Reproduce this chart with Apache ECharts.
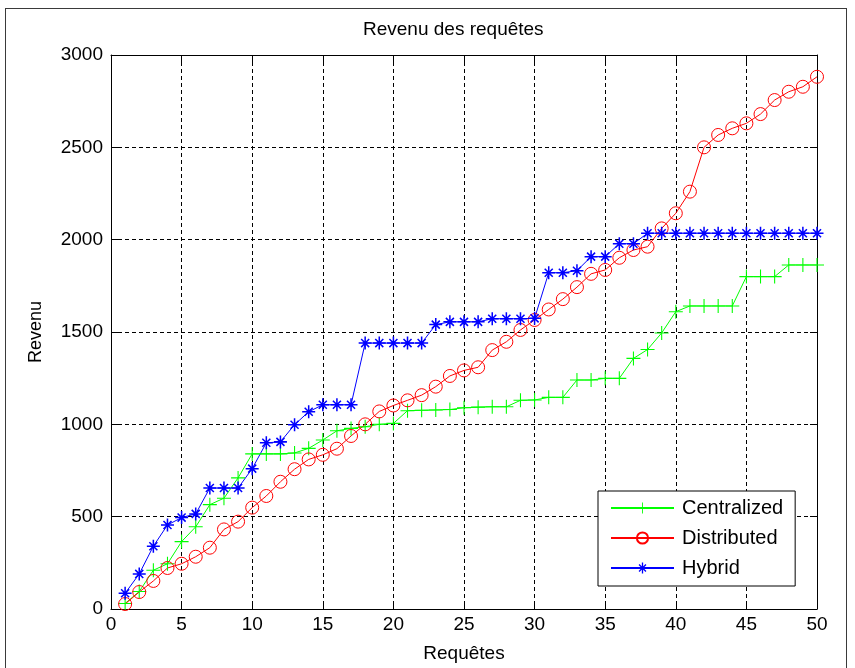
<!DOCTYPE html>
<html>
<head>
<meta charset="utf-8">
<script src="https://cdn.jsdelivr.net/npm/echarts@6/dist/echarts.min.js"></script>
<style>
html,body{margin:0;padding:0;background:#fff;}
#frame{position:absolute;left:5px;top:8px;width:842px;height:700px;border:1px solid #3a3a3a;box-sizing:border-box;}
#chart{position:absolute;left:0;top:0;width:855px;height:668px;}
</style>
</head>
<body>
<div id="frame"></div>
<div id="chart"></div>
<script>
const requetes = Array.from({length: 50}, (_, i) => i + 1);
const centralized = [30, 95, 210, 245, 365, 445, 565, 600, 710, 840,
  840, 840, 845, 870, 915, 965, 978, 987, 1000, 1005,
  1074, 1076, 1078, 1080, 1090, 1093, 1095, 1095, 1130, 1132,
  1146, 1146, 1240, 1240, 1249, 1249, 1357, 1405, 1495, 1610,
  1641, 1641, 1641, 1641, 1800, 1800, 1800, 1863, 1863, 1863];
const distributed = [27, 92, 152, 222, 245, 283, 332, 431, 473, 549,
  612, 689, 757, 810, 835, 868, 937, 1000, 1070, 1102,
  1130, 1158, 1204, 1262, 1292, 1309, 1402, 1447, 1511, 1565,
  1622, 1678, 1743, 1815, 1836, 1902, 1944, 1962, 2061, 2143,
  2260, 2500, 2567, 2603, 2630, 2680, 2756, 2801, 2828, 2882];
const hybrid = [85, 190, 340, 455, 495, 515, 655, 655, 655, 760,
  900, 905, 998, 1068, 1106, 1106, 1106, 1440, 1440, 1440,
  1440, 1440, 1540, 1555, 1555, 1555, 1572, 1572, 1572, 1574,
  1821, 1821, 1832, 1908, 1908, 1978, 1978, 2035, 2035, 2035,
  2035, 2035, 2035, 2035, 2035, 2035, 2035, 2035, 2035, 2035];
const seriesNames = ['Centralized', 'Distributed', 'Hybrid'];
const titleText = 'Revenu des requêtes';
const xName = 'Requêtes';
const yName = 'Revenu';

const FONT = '"Liberation Sans", Arial, sans-serif';
const plusPath = 'path://M-0.5,-6.5H0.5V6.5H-0.5Z M-6.5,-0.5H6.5V0.5H-6.5Z';
const starPath = 'path://M-0.7,-6H0.7V6H-0.7Z M-6,-0.7H6V0.7H-6Z M-4.2,-3.2L-3.2,-4.2L4.2,3.2L3.2,4.2Z M3.2,-4.2L4.2,-3.2L-3.2,4.2L-4.2,3.2Z';

function pairs(vals){ return requetes.map((x, i) => [x, vals[i]]); }
const plain = v => String(v);

const chart = echarts.init(document.getElementById('chart'), null, {renderer: 'canvas'});
const tickStyle = {show: true, inside: true, length: 7, lineStyle: {color: '#000', width: 1}};
const axisLineStyle = {show: true, onZero: false, lineStyle: {color: '#000', width: 1}};
const gridLine = {show: true, lineStyle: {color: '#000', width: 1, type: [4, 3]}};
chart.setOption({
  animation: false,
  backgroundColor: 'transparent',
  title: {
    text: titleText, left: 358, top: 15,
    textStyle: {fontFamily: FONT, fontSize: 19, fontWeight: 'normal', color: '#000'}
  },
  grid: {left: 111, right: 38, top: 55, bottom: 59, containLabel: false},
  xAxis: [{
    type: 'value', min: 0, max: 50, interval: 5, position: 'bottom',
    name: xName, nameLocation: 'middle', nameGap: 35,
    nameTextStyle: {fontFamily: FONT, fontSize: 19, color: '#000'},
    axisLine: axisLineStyle, axisTick: tickStyle, splitLine: gridLine,
    axisLabel: {fontFamily: FONT, fontSize: 19, color: '#000', margin: 6, formatter: plain}
  }, {
    type: 'value', min: 0, max: 50, interval: 5, position: 'top',
    axisLine: axisLineStyle, axisTick: tickStyle, splitLine: {show: false},
    axisLabel: {show: false}
  }],
  yAxis: [{
    type: 'value', min: 0, max: 3000, interval: 500, position: 'left',
    name: yName, nameLocation: 'middle', nameGap: 66,
    nameTextStyle: {fontFamily: FONT, fontSize: 18, color: '#000'},
    axisLine: axisLineStyle, axisTick: tickStyle, splitLine: gridLine,
    axisLabel: {fontFamily: FONT, fontSize: 19, color: '#000', margin: 8, formatter: plain}
  }, {
    type: 'value', min: 0, max: 3000, interval: 500, position: 'right',
    axisLine: axisLineStyle, axisTick: tickStyle, splitLine: {show: false},
    axisLabel: {show: false}
  }],
  legend: {
    orient: 'vertical', left: 598, top: 491,
    padding: [7, 12, 8, 12], itemGap: 10, itemWidth: 63, itemHeight: 14,
    backgroundColor: '#fff', borderColor: '#000', borderWidth: 1, borderRadius: 0,
    textStyle: {fontFamily: FONT, fontSize: 20, color: '#000', padding: [0, 0, 0, 3]},
    data: seriesNames
  },
  series: [{
    name: seriesNames[0], type: 'line', data: pairs(centralized),
    symbol: plusPath, symbolSize: 14,
    lineStyle: {color: '#00ff00', width: 1},
    itemStyle: {color: '#00ff00', borderWidth: 0}
  }, {
    name: seriesNames[1], type: 'line', data: pairs(distributed),
    symbol: 'circle', symbolSize: 13,
    lineStyle: {color: '#ff0000', width: 1},
    itemStyle: {color: 'rgba(255,255,255,0)', borderColor: '#ff0000', borderWidth: 1}
  }, {
    name: seriesNames[2], type: 'line', data: pairs(hybrid),
    symbol: starPath, symbolSize: 13,
    lineStyle: {color: '#0000ff', width: 1},
    itemStyle: {color: '#0000ff', borderWidth: 0}
  }]
});
</script>
</body>
</html>
